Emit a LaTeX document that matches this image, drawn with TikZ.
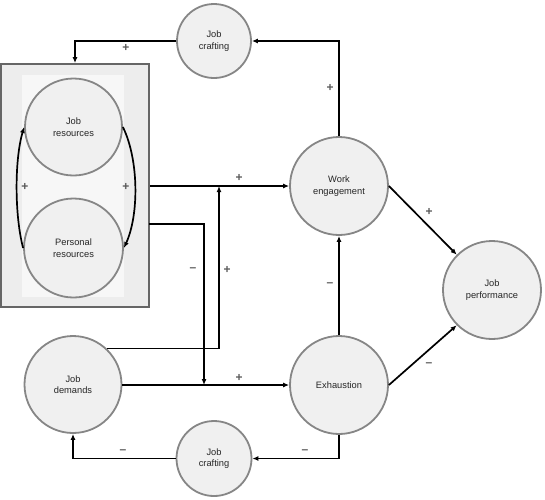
\documentclass[tikz,border=0pt]{standalone}
\usepackage{fontspec}
\setmainfont{Liberation Sans}
\usetikzlibrary{arrows.meta}

\begin{document}
\begin{tikzpicture}[x=1pt,y=-1pt,
  factor/.style={circle,draw=gray!95,line width=1.8pt,fill=black!6,inner sep=0pt,
    align=center,text=black!85,font=\fontsize{9.3}{11.5}\selectfont},
  arr/.style={line width=1.7pt,-{Latex[length=6pt,width=5pt]}},
  sign/.style={text=black!65,font=\fontsize{12}{12}\selectfont\bfseries,inner sep=0pt}]
\useasboundingbox (0,0) rectangle (545,499);
% resources box
\node[draw=black!60,line width=1.8pt,fill=black!7,minimum width=148pt,minimum height=243pt,inner sep=0pt] (box) at (75,185.5) {};
\fill[black!3] (22,75) rectangle (124,297);
\node[factor,minimum size=97pt] (jr) at (73.5,127) {Job\\resources};
\node[factor,minimum size=99pt] (pr) at (73.5,248) {Personal\\resources};
% other factors
\node[factor,minimum size=74pt] (jcTop) at (214,41) {Job\\crafting};
\node[factor,minimum size=98pt] (we) at (339,186) {Work\\engagement};
\node[factor,minimum size=98pt] (jp) at (492,290) {Job\\performance};
\node[factor,minimum size=98pt] (ex) at (339,385) {Exhaustion};
\node[factor,minimum size=97pt] (jd) at (73,384.5) {Job\\demands};
\node[factor,minimum size=75pt] (jcBot) at (214,458.5) {Job\\crafting};
\coordinate (boxout) at (149,224);
\coordinate (dn) at (204,385);
\coordinate (up) at (219,186);
% connectors
\draw[arr] (pr.west) .. controls (14.5,215) and (14.5,160) .. (jr.west);
\draw[arr] (jr.east) .. controls (139,160) and (139,215) .. (pr.east);
\draw[arr] (jcTop.west) -| (box.north);
\draw[arr] (we.north) |- (jcTop.east);
\draw[arr] (box.east |- we.west) -- (we.west);
\draw[arr] (boxout) -| (dn);
\draw[arr] (jd.47) -| (up);
\draw[arr] (jd.east |- ex.west) -- (ex.west);
\draw[arr] (ex.north) -- (we.south);
\draw[arr] (we.east) -- (jp.135);
\draw[arr] (ex.east) -- (jp.225);
\draw[arr] (ex.south) |- (jcBot.east);
\draw[arr] (jcBot.west) -| (jd.south);
% signs
\node[sign] (s1) at (126,48) {+};
\node[sign] (s2) at (330,88) {+};
\node[sign] (s3) at (239,178) {+};
\node[sign] (s4) at (25,187) {+};
\node[sign] (s5) at (126,187) {+};
\node[sign] (s6) at (193,270) {--};
\node[sign] (s7) at (227,270) {+};
\node[sign] (s8) at (239,378) {+};
\node[sign] (s9) at (330,285) {--};
\node[sign] (s10) at (429,212) {+};
\node[sign] (s11) at (429,365) {--};
\node[sign] (s12) at (123,452) {--};
\node[sign] (s13) at (305,452) {--};
\end{tikzpicture}
\end{document}
